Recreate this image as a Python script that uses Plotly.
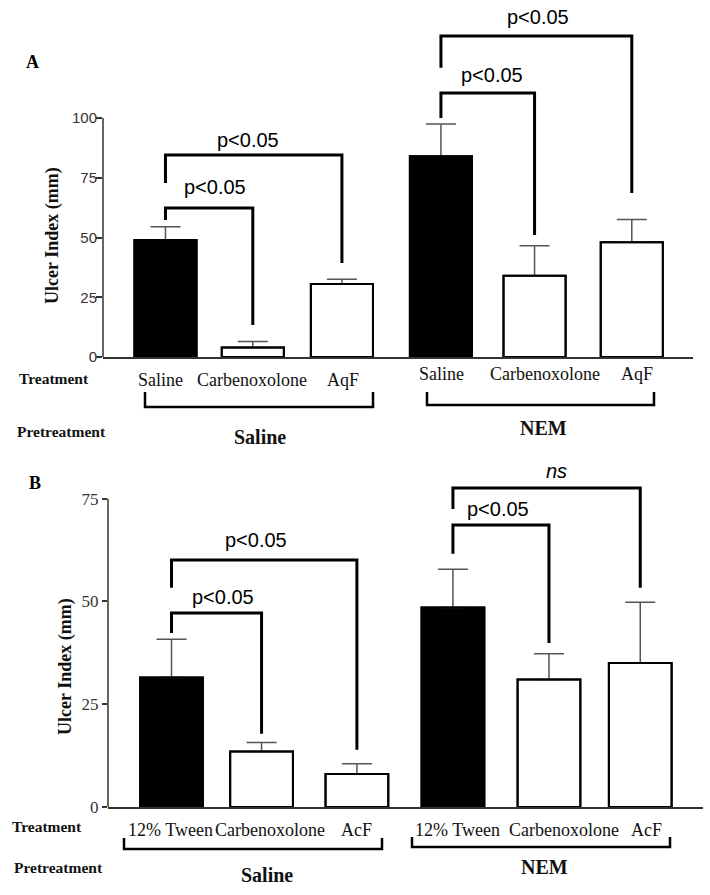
import plotly.graph_objects as go

# ---------------- data ----------------
treat_A = ["Saline", "Carbenoxolone", "AqF", "Saline", "Carbenoxolone", "AqF"]
mean_A = [49, 4, 30.5, 84, 34, 48]
err_A = [5.5, 2.5, 2, 13.5, 12.5, 9.5]
fill_A = ["black", "white", "white", "black", "white", "white"]

treat_B = ["12% Tween", "Carbenoxolone", "AcF", "12% Tween", "Carbenoxolone", "AcF"]
mean_B = [31.5, 13.5, 8, 48.5, 31, 35]
err_B = [9.3, 2.2, 2.5, 9.3, 6.3, 14.8]
fill_B = ["black", "white", "white", "black", "white", "white"]

pretreat = ["Saline", "NEM"]
ticks_A = [0, 25, 50, 75, 100]
ticks_B = [0, 25, 50, 75]

# comparisons: (i, j, bracket top, left leg bottom, right leg bottom, label, label x, label y)
comp_A = [(0, 1, 62.3, 57.3, 13.4, "p<0.05", 0.55, 71.1),
          (0, 2, 84.5, 72.8, 39.3, "p<0.05", 0.92, 90.8),
          (3, 4, 110.5, 100, 51, "p<0.05", 3.63, 118),
          (3, 5, 134.3, 121, 68.6, "p<0.05", 4.14, 142.3)]
comp_B = [(0, 1, 47.2, 42.3, 17.8, "p<0.05", 0.54, 51.1),
          (0, 2, 60.1, 53.3, 13.9, "p<0.05", 0.89, 65),
          (3, 4, 68.6, 61.6, 39.9, "p<0.05", 3.43, 72.5),
          (3, 5, 77.6, 72.5, 53.3, "<i>ns</i>", 4.05, 81.8)]

# ---------------- layout helpers ----------------
W, H = 710, 895
pos_A = [0, 0.97, 1.96, 3.06, 4.1, 5.18]
pos_B = [0, 0.947, 1.95, 2.96, 3.97, 4.93]
shift_A = [-4.5, -1, 1, 0.5, 10.5, 5]
shift_B = [-1.5, 8.5, 0, 5, 15, 6.5]


def px(x):
    return x / W


def py(y):
    return 1 - y / H


SERIF = "Liberation Serif, Times New Roman, serif"
SANS = "Liberation Sans, Arial, sans-serif"

fig = go.Figure()

for pos, mean, err, fill, wd, xa, ya in [(pos_A, mean_A, err_A, fill_A, 0.69, "x", "y"),
                                          (pos_B, mean_B, err_B, fill_B, 0.66, "x2", "y2")]:
    # filled bars with upper error bars
    fig.add_trace(go.Bar(
        x=pos, y=mean, width=wd, xaxis=xa, yaxis=ya,
        marker=dict(color=fill, line=dict(color="black", width=2)),
        error_y=dict(type="data", symmetric=False, array=err, arrayminus=[0] * len(err),
                     color="#555", thickness=1.5, width=15),
        showlegend=False, hoverinfo="skip"))
    # outline drawn again on top so the lower error cap is hidden
    fig.add_trace(go.Bar(
        x=pos, y=mean, width=wd, xaxis=xa, yaxis=ya,
        marker=dict(color="rgba(0,0,0,0)", line=dict(color="black", width=2)),
        showlegend=False, hoverinfo="skip"))

shapes = []
annotations = []

# y axis lines (only up to the last tick)
shapes.append(dict(type="line", xref="x domain", yref="y", x0=0, x1=0, y0=0, y1=ticks_A[-1],
                   line=dict(color="#333", width=1.5)))
shapes.append(dict(type="line", xref="x2 domain", yref="y2", x0=0, x1=0, y0=0, y1=ticks_B[-1],
                   line=dict(color="#333", width=1.5)))

# significance brackets
for comps, pos, xr, yr in [(comp_A, pos_A, "x", "y"), (comp_B, pos_B, "x2", "y2")]:
    for i, j, top, lb, rb, lab, tx, ty in comps:
        path = f"M {pos[i]},{lb} L {pos[i]},{top} L {pos[j]},{top} L {pos[j]},{rb}"
        shapes.append(dict(type="path", path=path, xref=xr, yref=yr,
                           line=dict(color="black", width=3)))
        annotations.append(dict(x=tx, y=ty, xref=xr, yref=yr, text=lab, showarrow=False,
                                font=dict(family=SANS, size=20, color="black"),
                                xanchor="center", yanchor="middle"))

# treatment labels
for k in range(6):
    annotations.append(dict(x=pos_A[k], xref="x", y=py(380 if k < 3 else 374), yref="paper",
                            text=treat_A[k], showarrow=False, xshift=shift_A[k],
                            font=dict(family=SERIF, size=18, color="#111"),
                            xanchor="center", yanchor="middle"))
    annotations.append(dict(x=pos_B[k], xref="x2", y=py(830), yref="paper",
                            text=treat_B[k], showarrow=False, xshift=shift_B[k],
                            font=dict(family=SERIF, size=18, color="#111"),
                            xanchor="center", yanchor="middle"))

# group brackets (pixel geometry)
groups = [
    # (x_left, x_right, y_line, y_tick_top, label_x, label_y, label)
    (145, 373, 407, 392, 260, 437, pretreat[0]),
    (427, 654, 405, 392, 543, 428, pretreat[1]),
    (124, 382, 849, 838, 267, 875, pretreat[0]),
    (412, 670, 847, 837, 544, 867, pretreat[1]),
]
for xl, xr_, yl, yt, lx, ly, lab in groups:
    path = f"M {px(xl)},{py(yt)} L {px(xl)},{py(yl)} L {px(xr_)},{py(yl)} L {px(xr_)},{py(yt)}"
    shapes.append(dict(type="path", path=path, xref="paper", yref="paper",
                       line=dict(color="black", width=2.5)))
    annotations.append(dict(x=px(lx), y=py(ly), xref="paper", yref="paper", text=f"<b>{lab}</b>",
                            showarrow=False, font=dict(family=SERIF, size=20, color="#111"),
                            xanchor="center", yanchor="middle"))

# row labels
for txt, x, y in [("Treatment", 17, 378), ("Pretreatment", 15, 432),
                  ("Treatment", 10, 826), ("Pretreatment", 12, 867)]:
    annotations.append(dict(x=px(x), y=py(y), xref="paper", yref="paper", text=f"<b>{txt}</b>",
                            showarrow=False, font=dict(family=SERIF, size=15.5, color="#111"),
                            xanchor="left", yanchor="middle"))

# panel letters
for txt, x, y in [("A", 32, 62), ("B", 35, 483)]:
    annotations.append(dict(x=px(x), y=py(y), xref="paper", yref="paper", text=f"<b>{txt}</b>",
                            showarrow=False, font=dict(family=SERIF, size=18, color="black"),
                            xanchor="center", yanchor="middle"))

# y axis titles
for x, y in [(53, 236), (65, 667)]:
    annotations.append(dict(x=px(x), y=py(y), xref="paper", yref="paper",
                            text="<b>Ulcer Index (mm)</b>", textangle=-90, showarrow=False,
                            font=dict(family=SERIF, size=18, color="#111"),
                            xanchor="center", yanchor="middle"))

axis_common = dict(showgrid=False, zeroline=False, automargin=False, fixedrange=True)

fig.update_layout(
    width=W, height=H,
    margin=dict(l=0, r=0, t=0, b=0, pad=0, autoexpand=False),
    paper_bgcolor="white", plot_bgcolor="white",
    barmode="overlay",
    xaxis=dict(domain=[px(103), px(693)], range=[-0.694, 5.86], anchor="y",
               showline=True, linecolor="#333", linewidth=1.5, showticklabels=False,
               ticks="", **axis_common),
    yaxis=dict(domain=[py(357), py(10)], range=[0, 145.2], anchor="x",
               showline=False, tickvals=ticks_A, ticks="outside", ticklen=6,
               tickwidth=1.5, tickcolor="#333", ticklabelstandoff=-4,
               tickfont=dict(family=SANS, size=15, color="#333"), **axis_common),
    xaxis2=dict(domain=[px(108), px(703)], range=[-0.668, 5.59], anchor="y2",
                showline=True, linecolor="#333", linewidth=1.5, showticklabels=False,
                ticks="", **axis_common),
    yaxis2=dict(domain=[py(807), py(460)], range=[0, 84.4], anchor="x2",
                showline=False, tickvals=ticks_B, ticks="outside", ticklen=5,
                tickwidth=1.5, tickcolor="#333",
                tickfont=dict(family=SERIF, size=17, color="#333"), **axis_common),
    shapes=shapes,
    annotations=annotations,
)

fig.write_html("out.html", config={"displayModeBar": False},
               post_script="document.body.style.margin='0px';document.body.style.overflow='hidden';")
